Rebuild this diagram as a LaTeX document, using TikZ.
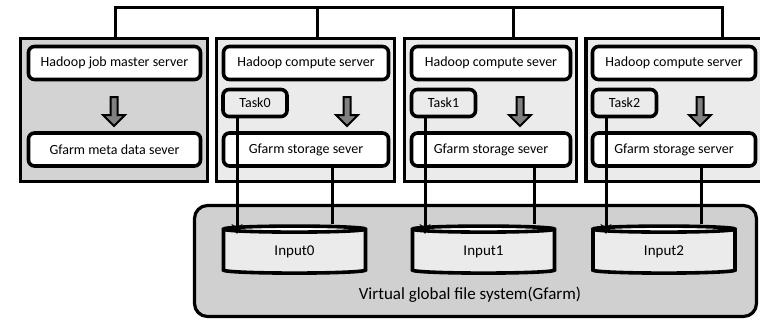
\documentclass[tikz,border=0pt]{standalone}
\usepackage{fontspec}
\setmainfont{Carlito}
\usetikzlibrary{calc}
\usetikzlibrary{shapes.geometric}
\usetikzlibrary{arrows.meta}

\definecolor{mastergray}{HTML}{D3D3D3}
\definecolor{panelgray}{HTML}{EBEBEB}
\definecolor{fsgray}{HTML}{D0D0D0}

\begin{document}
\begin{tikzpicture}[x=1pt,y=-1pt,inner sep=0pt,font=\fontsize{14}{16}\selectfont,
  panel/.style={draw,line width=3.2pt,minimum height=143,minimum width=#1},
  srv/.style={draw,fill=white,rounded corners=6pt,line width=3.6pt,minimum height=33,minimum width=#1},
  taskbox/.style={draw,fill=panelgray,rounded corners=6pt,line width=3.6pt,minimum height=27,minimum width=64},
  disk/.style={draw,cylinder,shape border rotate=90,aspect=0.15,minimum width=142,minimum height=47,
    line width=3.6pt,cylinder uses custom fill,cylinder body fill=panelgray,cylinder end fill=white,
    font=\fontsize{15}{17}\selectfont},
  wire/.style={line width=3pt},
  blk/.pic={\draw[line width=2pt,fill=black!50] (-3.5,0) -- (-3.5,18) -- (-11,18) -- (0,29) -- (11,18) -- (3.5,18) -- (3.5,0) -- cycle;}]
\useasboundingbox (0,0) rectangle (760,321);

\node[panel=187,fill=mastergray] (p0) at (114,110) {};
\node[panel=178,fill=panelgray] (p1) at (305.5,110) {};
\node[panel=172,fill=panelgray] (p2) at (490.5,110) {};
\node[panel=180,fill=panelgray] (p3) at (676,110) {};

\node[srv=172] (m0) at (114.5,63) {Hadoop job master server};
\node[srv=172] (m1) at (114.5,149.5) {Gfarm meta data sever};
\pic at (114,97) {blk};

\node[srv=165] (h1) at (306,63) {Hadoop compute server};
\node[taskbox] (t1) at (255,103) {Task0};
\node[srv=165] (s1) at (306,149.5) {Gfarm storage sever};
\pic at (347,97) {blk};

\node[srv=159] (h2) at (491,63) {Hadoop compute sever};
\node[taskbox] (t2) at (443.5,103) {Task1};
\node[srv=159] (s2) at (491,149.5) {Gfarm storage sever};
\pic at (520,97) {blk};

\node[srv=163] (h3) at (674,63) {Hadoop compute server};
\node[taskbox] (t3) at (624.5,103) {Task2};
\node[srv=163] (s3) at (674,149.5) {Gfarm storage server};
\pic at (700,97) {blk};

\node[draw,fill=fsgray,rounded corners=13pt,line width=3.2pt,minimum width=562,minimum height=111] (fs) at (475.5,261) {};
\node[font=\fontsize{17}{20}\selectfont] (fst) at (470,295) {Virtual global file system(Gfarm)};

\node[disk] (d1) at (294.5,252) {Input0};
\node[disk] (d2) at (483.5,252) {Input1};
\node[disk] (d3) at (664,252) {Input2};

\coordinate (b0) at (115,8);
\coordinate (b1) at (317,8);
\coordinate (b2) at (513,8);
\coordinate (b3) at (722,8);
\draw[wire] (b0 |- p0.north) -- (b0) -- (b3) -- (b3 |- p3.north);
\draw[wire] (b1) -- (b1 |- p1.north);
\draw[wire] (b2) -- (b2 |- p2.north);

\coordinate (a1) at (237,234);
\coordinate (a2) at (425,234);
\coordinate (a3) at (606,234);
\draw[wire,-{Stealth[length=10pt,width=11pt]}] (t1.south -| a1) -- (a1);
\draw[wire,-{Stealth[length=10pt,width=11pt]}] (t2.south -| a2) -- (a2);
\draw[wire,-{Stealth[length=10pt,width=11pt]}] (t3.south -| a3) -- (a3);

\coordinate (c1) at (332,0);
\coordinate (c2) at (534,0);
\coordinate (c3) at (701,0);
\draw[wire] (s1.south -| c1) -- (d1.north -| c1);
\draw[wire] (s2.south -| c2) -- (d2.north -| c2);
\draw[wire] (s3.south -| c3) -- (d3.north -| c3);
\end{tikzpicture}
\end{document}
